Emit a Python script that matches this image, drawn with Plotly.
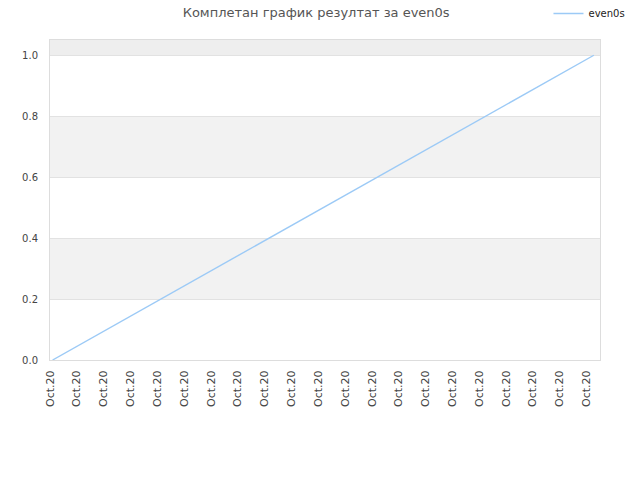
import plotly.graph_objects as go

# Data
dates = ["2020-10-01 02:20", "2020-10-21 06:30"]
values = [0.0, 1.0]
series_name = "even0s"
title_text = "Комплетан график резултат за even0s"
band_ranges = [(0.2, 0.4), (0.6, 0.8), (1.0, 1.05)]
y_ticks = [0.0, 0.2, 0.4, 0.6, 0.8, 1.0]

fig = go.Figure()
fig.add_trace(go.Scatter(
    x=dates, y=values, mode="lines", name=series_name,
    line=dict(color="#9ccaf6", width=1.4),
))

for y0, y1 in band_ranges:
    fig.add_shape(type="rect", xref="paper", yref="y", x0=0, x1=1, y0=y0, y1=y1,
                  fillcolor="#f2f2f2" if y1 < 1.0 else "#eeeeee",
                  line=dict(width=0), layer="below")

fig.update_layout(
    width=640, height=480,
    margin=dict(l=50, r=40, t=40, b=120, autoexpand=False),
    paper_bgcolor="white", plot_bgcolor="white",
    font=dict(family="DejaVu Sans, sans-serif", size=10, color="#444"),
    title=dict(text=title_text, x=0.494, xanchor="center",
               y=0.975, yref="container", yanchor="middle",
               font=dict(size=13, color="#555")),
    showlegend=True,
    legend=dict(x=0.857, xanchor="left", xref="container",
                y=0.972, yanchor="middle", yref="container",
                font=dict(size=10, color="#222"), bgcolor="rgba(0,0,0,0)"),
    xaxis=dict(
        type="date", range=["2020-10-01 00:00", "2020-10-21 12:00"],
        tick0="2020-10-01", dtick=86400000, tickformat="%b.%y",
        tickangle=-90, showgrid=False, zeroline=False, automargin=False,
        showline=True, linecolor="#dddddd", mirror=True,
        ticks="outside", ticklen=5, tickcolor="rgba(0,0,0,0)",
        tickfont=dict(size=11, color="#444"),
    ),
    yaxis=dict(
        range=[0, 1.05], tickvals=y_ticks, ticktext=[f"{v:.1f}" for v in y_ticks],
        showgrid=True, gridcolor="#e2e2e2", zeroline=False, automargin=False,
        showline=True, linecolor="#dddddd", mirror=True,
        ticks="outside", ticklen=9, tickcolor="rgba(0,0,0,0)",
        tickfont=dict(size=10, color="#444"),
    ),
)

fig.write_html("out.html", config={"displayModeBar": False},
               post_script="document.body.style.margin='0';")
